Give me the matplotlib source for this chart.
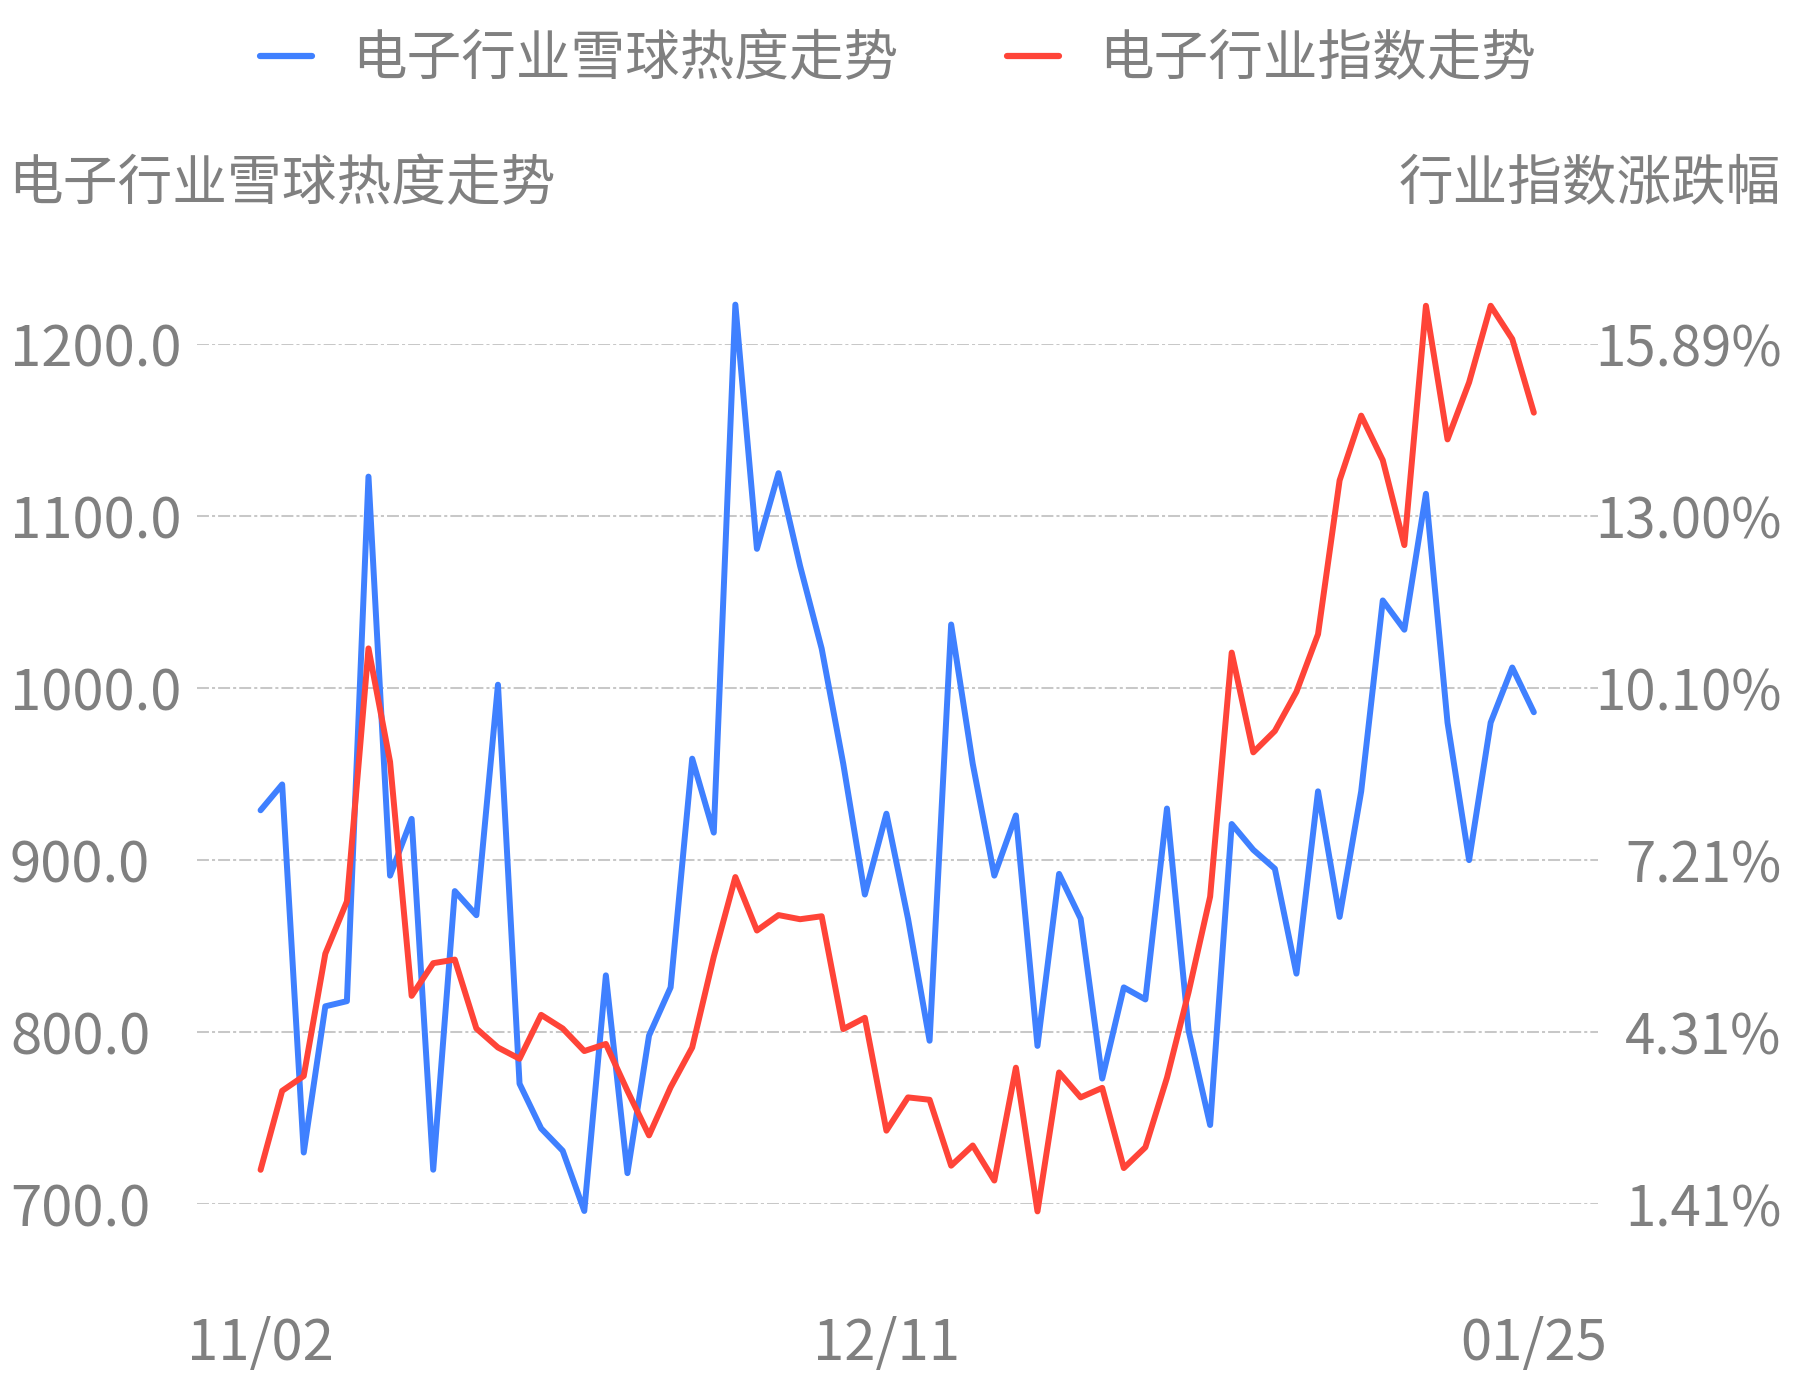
import matplotlib
matplotlib.use("Agg")
import matplotlib.pyplot as plt
import numpy as np

plt.rcParams['font.family'] = ['Noto Sans CJK SC', 'DejaVu Sans']
plt.rcParams['lines.scale_dashes'] = False

# ---- data ----
heat = [929, 944, 730, 815, 818, 1123, 891, 924, 720, 882,
        868, 1002, 770, 744, 731, 696, 833, 718, 798, 826,
        959, 916, 1223, 1081, 1125, 1071, 1023, 956, 880, 927,
        866, 795, 1037, 956, 891, 926, 792, 892, 866, 773,
        826, 819, 930, 801, 746, 921, 906, 895, 834, 940,
        867, 940, 1051, 1034, 1113, 980, 900, 980, 1012, 986]
index_pct = [1.99, 3.32, 3.57, 5.63, 6.51, 10.77, 8.86, 4.92, 5.47, 5.53,
             4.37, 4.05, 3.86, 4.60, 4.37, 3.99, 4.11, 3.32, 2.57, 3.38,
             4.05, 5.58, 6.92, 6.02, 6.28, 6.21, 6.26, 4.36, 4.55, 2.65,
             3.21, 3.17, 2.06, 2.40, 1.81, 3.71, 1.29, 3.63, 3.21, 3.37,
             2.02, 2.37, 3.54, 4.98, 6.59, 10.70, 9.02, 9.38, 10.04, 11.01,
             13.60, 14.69, 13.94, 12.51, 16.54, 14.29, 15.25, 16.54, 15.98, 14.74]
x_tick_pos = [0, 29, 59]
x_tick_labels = ["11/02", "12/11", "01/25"]
left_ticks = [700, 800, 900, 1000, 1100, 1200]
right_range = (1.413, 15.893)
right_tick_labels = ["1.41%", "4.31%", "7.21%", "10.10%", "13.00%", "15.89%"]
series_names = ["电子行业雪球热度走势", "电子行业指数走势"]
left_title = "电子行业雪球热度走势"
right_title = "行业指数涨跌幅"

BLUE = "#3f80ff"
RED = "#ff4438"
GRAY = "#808080"
GRID = "#c8c8c8"

W, H = 1793, 1380
fig = plt.figure(figsize=(W / 100, H / 100), dpi=100)
ax_left, ax_right = 196.7, 1597.5
y_top, y_bot = 344.2, 1204.1
ax = fig.add_axes([ax_left / W, 1 - y_bot / H, (ax_right - ax_left) / W, (y_bot - y_top) / H])
ax2 = ax.twinx()

x = np.arange(len(heat))
l1, = ax.plot(x, heat, color=BLUE, lw=4.3, solid_joinstyle='round', solid_capstyle='round',
              clip_on=False, zorder=3)
l2, = ax2.plot(x, index_pct, color=RED, lw=4.3, solid_joinstyle='round', solid_capstyle='round',
               clip_on=False, zorder=3)

ax.set_xlim(-2.96, len(heat) - 1 + 2.95)
ax.set_ylim(left_ticks[0], left_ticks[-1])
ax2.set_ylim(*right_range)

ax.set_yticks(left_ticks)
ax.set_yticklabels([f"{v:.1f}" for v in left_ticks])
ax2.set_yticks(np.linspace(right_range[0], right_range[1], len(right_tick_labels)))
ax2.set_yticklabels(right_tick_labels)
ax.set_xticks(x_tick_pos)
ax.set_xticklabels(x_tick_labels)

ax.grid(axis='y', color=GRID, lw=1.45, linestyle=(0, (8.6, 2.2, 2.2, 2.2)))
ax.grid(axis='x', visible=False)
ax.set_axisbelow(True)

for a in (ax, ax2):
    for s in a.spines.values():
        s.set_visible(False)

ax.tick_params(axis='y', length=0, labelsize=40.5, labelcolor=GRAY, pad=134.5)
for t in ax.get_yticklabels():
    t.set_horizontalalignment('left')
ax2.tick_params(axis='y', length=0, labelsize=39.3, labelcolor=GRAY, pad=132.5)
for t in ax2.get_yticklabels():
    t.set_horizontalalignment('right')
ax.tick_params(axis='x', length=0, labelsize=40.5, labelcolor=GRAY, pad=80)

fig.text(8 / W, 1 - 184 / H, left_title, fontsize=39.4, color=GRAY, ha='left', va='center')
fig.text(1781 / W, 1 - 184 / H, right_title, fontsize=39.3, color=GRAY, ha='right', va='center')

leg = fig.legend([l1, l2], series_names, loc='center left',
                 bbox_to_anchor=(260 / W, 1 - 59 / H), ncol=2, frameon=False,
                 fontsize=39.3, labelcolor=GRAY, handlelength=0.95, handletextpad=0.73,
                 columnspacing=2.0, borderpad=0, borderaxespad=0)
for h in leg.legend_handles:
    h.set_linewidth(4.5)
    h.set_solid_capstyle('round')

fig.savefig("out.png", dpi=100)
